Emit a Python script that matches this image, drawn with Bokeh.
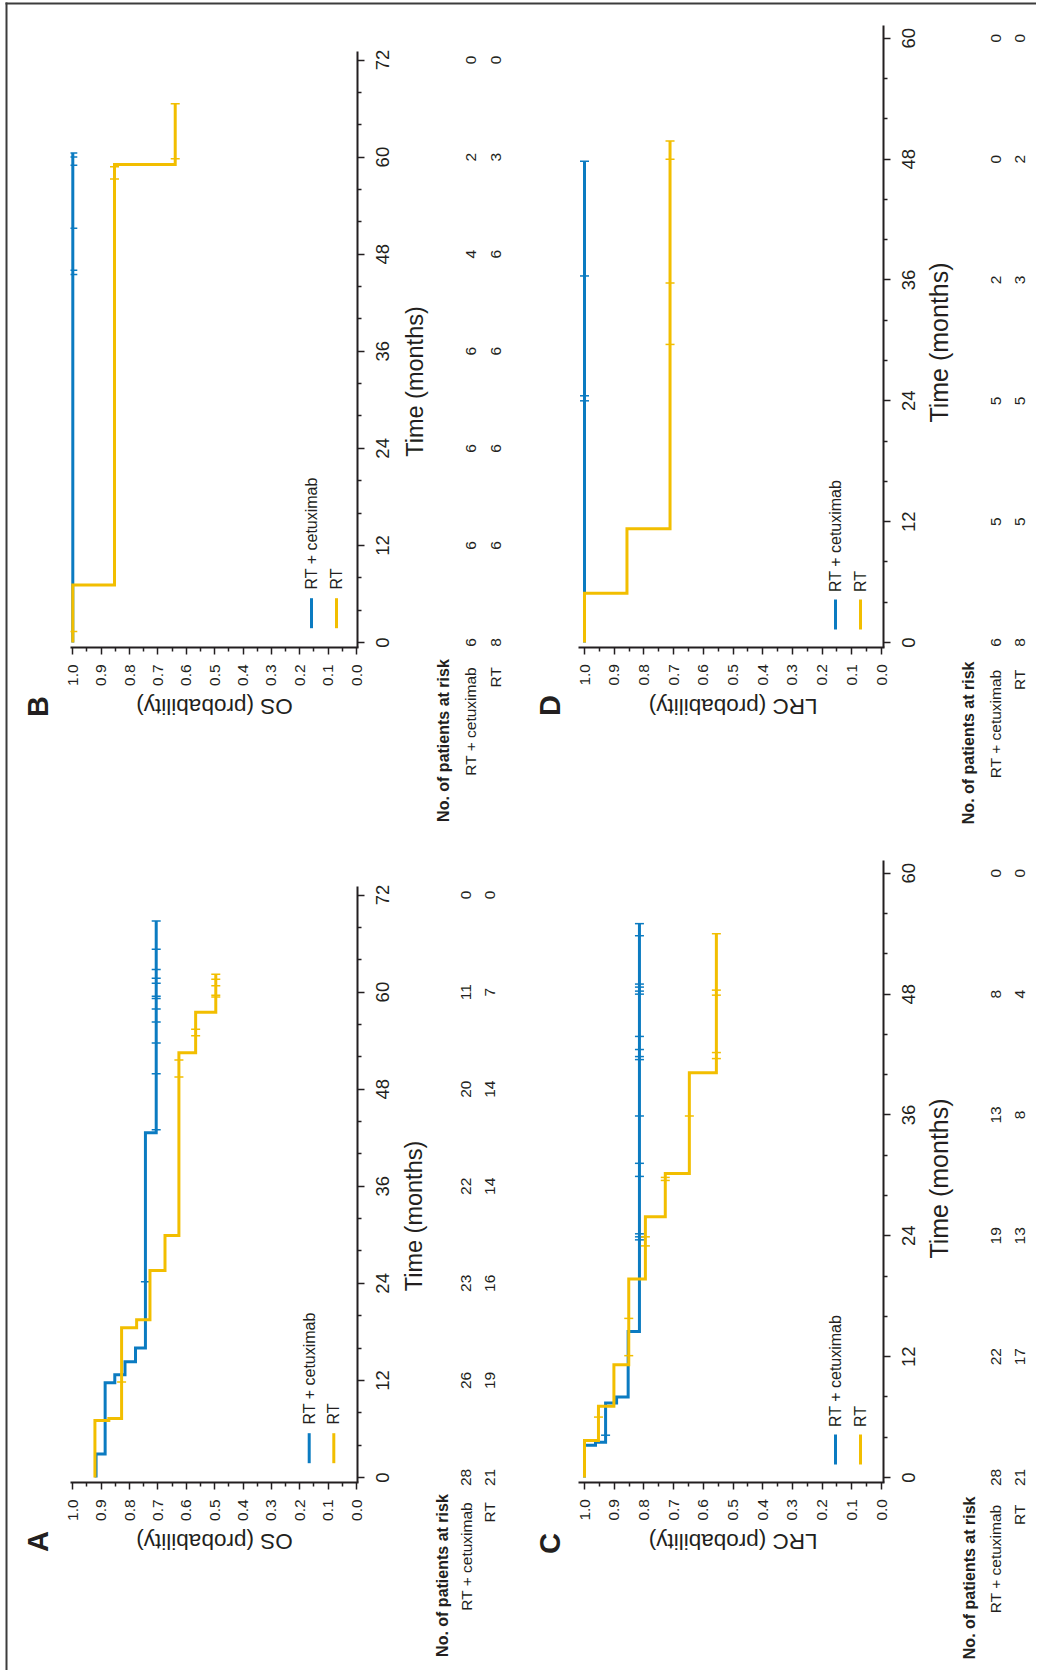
import math
from bokeh.plotting import figure
from bokeh.models import Range1d, FixedTicker, Label, LinearAxis
from bokeh.embed import file_html
from bokeh.resources import INLINE

# ---------------- data ----------------
PROB_TICKS = [0.0, 0.1, 0.2, 0.3, 0.4, 0.5, 0.6, 0.7, 0.8, 0.9, 1.0]
PROB_TICK_LABELS = ["0.0", "0.1", "0.2", "0.3", "0.4", "0.5", "0.6", "0.7", "0.8", "0.9", "1.0"]
PROB_MINOR_TICKS = [0.05, 0.15, 0.25, 0.35, 0.45, 0.55, 0.65, 0.75, 0.85, 0.95]
OS_TIME_TICKS = [0, 12, 24, 36, 48, 60, 72]
OS_TIME_MINOR = [4, 8, 16, 20, 28, 32, 40, 44, 52, 56, 64, 68]
LRC_TIME_TICKS = [0, 12, 24, 36, 48, 60]
LRC_TIME_MINOR = [4, 8, 16, 20, 28, 32, 40, 44, 52, 56]
GROUPS = ["RT + cetuximab", "RT"]

# Panel A - OS
A_CET_STEP_T = [0, 2.9, 11.7, 12.7, 14.3, 16.0, 42.6]
A_CET_SURV = [0.918, 0.886, 0.852, 0.816, 0.779, 0.744, 0.706]
A_CET_END = 68.8
A_CET_CENSOR = [24.2, 43.0, 49.9, 53.7, 56.3, 57.9, 59.2, 59.5, 61.1, 61.7, 62.8, 65.3, 68.8]
A_RT_STEP_T = [0, 7.05, 7.3, 18.5, 19.5, 25.6, 29.9, 52.5, 57.5]
A_RT_SURV = [0.922, 0.873, 0.828, 0.775, 0.728, 0.675, 0.626, 0.567, 0.496]
A_RT_END = 62.2
A_RT_CENSOR = [11.8, 49.5, 51.6, 54.6, 55.4, 59.4, 59.6, 60.8, 61.6, 62.2]
A_RISK_CET = [28, 26, 23, 22, 20, 11, 0]
A_RISK_RT = [21, 19, 16, 14, 14, 7, 0]

# Panel B - OS
B_CET_STEP_T = [0]
B_CET_SURV = [1.0]
B_CET_END = 60.5
B_CET_CENSOR = [45.5, 46.0, 51.2, 59.0, 60.0, 60.5]
B_RT_STEP_T = [0, 7.1, 59.1]
B_RT_SURV = [1.0, 0.853, 0.639]
B_RT_END = 66.6
B_RT_CENSOR = [1.35, 57.3, 58.8, 59.8, 66.6]
B_RISK_CET = [6, 6, 6, 6, 4, 2, 0]
B_RISK_RT = [8, 6, 6, 6, 6, 3, 0]

# Panel C - LRC
C_CET_STEP_T = [0, 3.2, 3.5, 7.4, 8.0, 14.5]
C_CET_SURV = [1.0, 0.963, 0.929, 0.892, 0.853, 0.815]
C_CET_END = 55.0
C_CET_CENSOR = [4.2, 23.6, 23.9, 24.2, 29.9, 31.2, 35.9, 41.5, 41.8, 42.5, 43.8, 48.0, 48.3, 48.7, 49.0, 53.8, 55.0]
C_RT_STEP_T = [0, 3.67, 7.08, 11.2, 19.7, 25.9, 30.2, 40.2]
C_RT_SURV = [1.0, 0.953, 0.901, 0.851, 0.795, 0.728, 0.647, 0.556]
C_RT_END = 54.0
C_RT_CENSOR = [6.0, 12.1, 15.8, 23.0, 23.9, 29.5, 29.8, 35.9, 41.6, 42.2, 47.9, 48.4, 54.0]
C_RISK_CET = [28, 22, 19, 13, 8, 0]
C_RISK_RT = [21, 17, 13, 8, 4, 0]

# Panel D - LRC
D_CET_STEP_T = [0]
D_CET_SURV = [1.0]
D_CET_END = 47.8
D_CET_CENSOR = [24.0, 24.5, 36.4, 47.8]
D_RT_STEP_T = [0, 4.9, 11.3]
D_RT_SURV = [1.0, 0.857, 0.712]
D_RT_END = 49.8
D_RT_CENSOR = [29.6, 35.7, 48.0, 49.8]
D_RISK_CET = [6, 5, 5, 2, 0, 0]
D_RISK_RT = [8, 5, 5, 3, 2, 0]

# ---------------- style ----------------
BLUE = "#0b7bc1"
YELLOW = "#f2be00"
INK = "#231f20"
FRAME = "#3c3c3c"
SANS = "Liberation Sans"
FIG_W, FIG_H = 1036, 1670


def km_path(step_t, surv, end_t):
    xs, ys = [], []
    for i, (t, s) in enumerate(zip(step_t, surv)):
        if i > 0:
            xs.append(surv[i - 1])
            ys.append(t)
        xs.append(s)
        ys.append(t)
    xs.append(surv[-1])
    ys.append(end_t)
    return xs, ys


def surv_at(step_t, surv, t):
    s = surv[0]
    for st, sv in zip(step_t, surv):
        if st <= t:
            s = sv
    return s


# panel geometry (page pixels): where p=1 / t=0 fall, and the px per unit
GEO = {
    "A": dict(x1=72.3, ppu=283.7, y0=1477, ppm=8.09, ax_y=1481.7, ax_x0=70, ax_x1=358, ax_top=886),
    "B": dict(x1=72.3, ppu=283.7, y0=642, ppm=8.09, ax_y=646.7, ax_x0=70, ax_x1=358, ax_top=51),
    "C": dict(x1=584, ppu=297, y0=1477, ppm=10.07, ax_y=1481.7, ax_x0=578, ax_x1=884.3, ax_top=860),
    "D": dict(x1=584, ppu=297, y0=642, ppm=10.07, ax_y=646.7, ax_x0=578, ax_x1=884.3, ax_top=25),
}
LAB = {
    "A": dict(letter=(37.5, 1541), ylab=(214, 1541), tlab=(413.3, 1215.5), tsize="23.5px",
              pticks_y=1509.7, tticks_x=381.7,
              leg_x=(308.7, 333.3), leg_y=(1462.7, 1432.7), leg_text=1424,
              nopat=(441.7, 1493.7), rows=(465.8, 489), row_end=1501.5),
    "B": dict(letter=(37.5, 706), ylab=(214, 706), tlab=(414, 381), tsize="23.5px",
              pticks_y=674.7, tticks_x=381.7,
              leg_x=(311, 336), leg_y=(627.7, 597.7), leg_text=589,
              nopat=(443, 658.7), rows=(470, 495), row_end=666.5),
    "C": dict(letter=(549, 1543), ylab=(732.7, 1541), tlab=(938.3, 1178), tsize="25px",
              pticks_y=1509.3, tticks_x=908.3,
              leg_x=(835, 860), leg_y=(1464, 1434), leg_text=1426.5,
              nopat=(969, 1496), rows=(995.3, 1019), row_end=1504),
    "D": dict(letter=(549, 705), ylab=(732.7, 706), tlab=(938.3, 342), tsize="25px",
              pticks_y=674.3, tticks_x=908.3,
              leg_x=(835, 860), leg_y=(629, 599), leg_text=591.5,
              nopat=(968, 661), rows=(995, 1019), row_end=669),
}


def mappers(g):
    def P(xr):
        return 1 - (xr - g["x1"]) / g["ppu"]

    def T(yr):
        return (g["y0"] - yr) / g["ppm"]
    return P, T


def ranges_for(key):
    P, T = mappers(GEO[key])
    return Range1d(P(0), P(FIG_W)), Range1d(T(FIG_H), T(0))


xA, yA = ranges_for("A")
p = figure(width=FIG_W, height=FIG_H, x_range=xA, y_range=yA,
           x_axis_location=None, y_axis_location=None,
           toolbar_location=None, output_backend="svg",
           min_border=0, min_border_left=0, min_border_right=0,
           min_border_top=0, min_border_bottom=0,
           outline_line_color=None, border_fill_color="white",
           background_fill_color="white")
p.grid.visible = False
extra_x, extra_y = {}, {}
for k in ("B", "C", "D"):
    extra_x[k], extra_y[k] = ranges_for(k)
p.extra_x_ranges = extra_x
p.extra_y_ranges = extra_y


def draw_panel(key, letter, ylabel, time_ticks, time_minor, curves, risk):
    g, lab = GEO[key], LAB[key]
    P, T = mappers(g)
    rn = "default" if key == "A" else key
    R = dict(x_range_name=rn, y_range_name=rn)

    xa = LinearAxis(fixed_location=T(g["ax_y"]),
                    bounds=(P(g["ax_x1"]), P(g["ax_x0"])),
                    ticker=FixedTicker(ticks=PROB_TICKS, minor_ticks=PROB_MINOR_TICKS), **R)
    ya = LinearAxis(fixed_location=P(g["ax_x1"] - 1),
                    bounds=(T(g["ax_y"]), T(g["ax_top"])),
                    ticker=FixedTicker(ticks=time_ticks, minor_ticks=time_minor), **R)
    for ax in (xa, ya):
        ax.axis_line_color = INK
        ax.axis_line_width = 2
        ax.major_tick_line_color = INK
        ax.major_tick_line_width = 1.5
        ax.minor_tick_line_color = INK
        ax.minor_tick_line_width = 1.5
        ax.major_tick_in = 0
        ax.major_tick_out = 7
        ax.minor_tick_in = 0
        ax.minor_tick_out = 4
        ax.major_label_text_color = None   # tick labels are placed below, centred on ticks
    p.add_layout(xa, "below")
    p.add_layout(ya, "right")

    hw = 4.5 / g["ppu"]          # half width of a censor tick
    p_edge = P(g["ax_x0"])       # plot-area edge (ticks are clipped there)
    for (st, sv, end, cens), color in zip(curves, [BLUE, YELLOW]):
        xs, ys = km_path(st, sv, end)
        p.line(xs, ys, line_color=color, line_width=3, line_join="miter", **R)
        cx = [surv_at(st, sv, c) for c in cens]
        p.segment(x0=[min(c + hw, p_edge) for c in cx], y0=cens,
                  x1=[c - hw for c in cx], y1=cens,
                  line_color=color, line_width=1.5, **R)

    def txt(xv, yv, text, size, style="normal", angle=math.pi / 2,
            align="center", baseline="middle"):
        p.add_layout(Label(x=xv, y=yv, text=text, angle=angle, text_align=align,
                           text_baseline=baseline, text_font=SANS, text_font_size=size,
                           text_font_style=style, text_color=INK, **R))

    # tick labels, centred on their ticks
    for v, s in zip(PROB_TICKS, PROB_TICK_LABELS):
        txt(v, T(lab["pticks_y"]), s, "15.5px")
    for t in time_ticks:
        txt(P(lab["tticks_x"]), t, str(t), "18.5px")

    txt(P(lab["letter"][0]), T(lab["letter"][1]), letter, "29px", style="bold")
    txt(P(lab["ylab"][0]), T(lab["ylab"][1]), ylabel, "22.5px", angle=math.pi)
    txt(P(lab["tlab"][0]), T(lab["tlab"][1]), "Time (months)", lab["tsize"])

    lx = [P(lab["leg_x"][0]), P(lab["leg_x"][1])]
    p.segment(x0=lx, y0=[T(lab["leg_y"][0])] * 2, x1=lx, y1=[T(lab["leg_y"][1])] * 2,
              line_color=[BLUE, YELLOW], line_width=3, **R)
    for xv, name in zip(lx, GROUPS):
        txt(xv, T(lab["leg_text"]), name, "16px", align="left")

    txt(P(lab["nopat"][0]), T(lab["nopat"][1]), "No. of patients at risk", "16px",
        style="bold", align="right")
    for rx, name, counts in zip(lab["rows"], GROUPS, risk):
        txt(P(rx), T(lab["row_end"]), name, "15.5px", align="right")
        for t, n in zip(time_ticks, counts):
            txt(P(rx), t, str(n), "15.5px")


draw_panel("A", "A", "OS (probability)", OS_TIME_TICKS, OS_TIME_MINOR,
           [(A_CET_STEP_T, A_CET_SURV, A_CET_END, A_CET_CENSOR),
            (A_RT_STEP_T, A_RT_SURV, A_RT_END, A_RT_CENSOR)],
           [A_RISK_CET, A_RISK_RT])
draw_panel("B", "B", "OS (probability)", OS_TIME_TICKS, OS_TIME_MINOR,
           [(B_CET_STEP_T, B_CET_SURV, B_CET_END, B_CET_CENSOR),
            (B_RT_STEP_T, B_RT_SURV, B_RT_END, B_RT_CENSOR)],
           [B_RISK_CET, B_RISK_RT])
draw_panel("C", "C", "LRC (probability)", LRC_TIME_TICKS, LRC_TIME_MINOR,
           [(C_CET_STEP_T, C_CET_SURV, C_CET_END, C_CET_CENSOR),
            (C_RT_STEP_T, C_RT_SURV, C_RT_END, C_RT_CENSOR)],
           [C_RISK_CET, C_RISK_RT])
draw_panel("D", "D", "LRC (probability)", LRC_TIME_TICKS, LRC_TIME_MINOR,
           [(D_CET_STEP_T, D_CET_SURV, D_CET_END, D_CET_CENSOR),
            (D_RT_STEP_T, D_RT_SURV, D_RT_END, D_RT_CENSOR)],
           [D_RISK_CET, D_RISK_RT])

# frame rules along the top and left edge
PA, TA = mappers(GEO["A"])
p.segment(x0=[PA(5), PA(6)], y0=[TA(3), TA(2)],
          x1=[PA(FIG_W), PA(6)], y1=[TA(3), TA(FIG_H)],
          line_color=FRAME, line_width=2)

open("out.html", "w").write(file_html(p, INLINE))
